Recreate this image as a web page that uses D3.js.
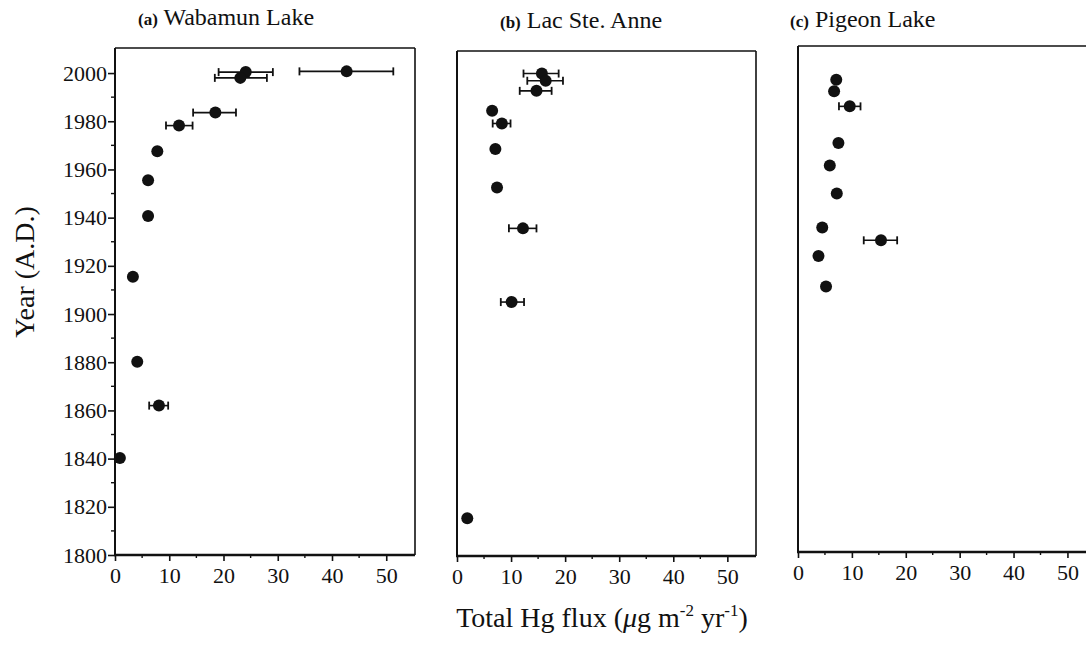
<!DOCTYPE html>
<html>
<head>
<meta charset="utf-8">
<script src="https://cdn.jsdelivr.net/npm/d3@7"></script>
<style>
  body { margin: 0; background: #fff; }
  svg text { font-family: "Liberation Serif", "Times New Roman", serif !important; fill: #111; }
</style>
</head>
<body>
<div id="chart"></div>
<script>
// values
const wabamunYear = [2000.7, 2000.4, 1998, 1983.6, 1978.2, 1967.6, 1955.5, 1940.7, 1915.5, 1880.2, 1862, 1840.3];
const wabamunFlux = [42.7, 24.1, 23.1, 18.5, 11.8, 7.8, 6.1, 6.1, 3.3, 4.1, 8.1, 0.9];
const wabamunLo   = [34.0, 19.1, 18.4, 14.4, 9.4, null, null, null, null, null, 6.3, null];
const wabamunHi   = [51.3, 29.1, 28.0, 22.3, 14.3, null, null, null, null, null, 9.8, null];

const lacYear = [2001, 1998, 1993.8, 1985.5, 1980.2, 1969.6, 1953.5, 1936.5, 1905.8, 1815.7];
const lacFlux = [15.7, 16.4, 14.7, 6.5, 8.3, 7.1, 7.4, 12.2, 10.1, 1.9];
const lacLo   = [12.3, 13.0, 11.6, null, 6.6, null, null, 9.6, 8.1, null];
const lacHi   = [18.8, 19.6, 17.5, null, 9.9, null, null, 14.7, 12.4, null];

const pigeonYear = [1996.4, 1991.6, 1985.3, 1970.1, 1960.7, 1949.1, 1934.9, 1929.6, 1923.1, 1910.4];
const pigeonFlux = [7.1, 6.7, 9.6, 7.5, 5.9, 7.2, 4.5, 15.4, 3.8, 5.2];
const pigeonLo   = [null, null, 7.6, null, null, null, null, 12.2, null, null];
const pigeonHi   = [null, null, 11.6, null, null, null, null, 18.4, null, null];

const xTicks = [0, 10, 20, 30, 40, 50];
const xMinor = [5, 15, 25, 35, 45];
const yTicks = [1800, 1820, 1840, 1860, 1880, 1900, 1920, 1940, 1960, 1980, 2000];
const yMinor = [1810, 1830, 1850, 1870, 1890, 1910, 1930, 1950, 1970, 1990];

const serif = '"Liberation Serif", "Times New Roman", serif';

const panels = [
  { tag: "(a)", name: "Wabamun Lake", year: wabamunYear, flux: wabamunFlux, lo: wabamunLo, hi: wabamunHi,
    left: 115, right: 415, top: 48, bottom: 555, titleX: 138, titleY: 25, yAxis: true, rightFrame: true },
  { tag: "(b)", name: "Lac Ste. Anne", year: lacYear, flux: lacFlux, lo: lacLo, hi: lacHi,
    left: 457, right: 756, top: 51, bottom: 556, titleX: 500, titleY: 28, yAxis: false, rightFrame: true },
  { tag: "(c)", name: "Pigeon Lake", year: pigeonYear, flux: pigeonFlux, lo: pigeonLo, hi: pigeonHi,
    left: 798, right: 1096, top: 46, bottom: 552, titleX: 790, titleY: 27, yAxis: false, rightFrame: false }
];

const svg = d3.select("#chart")
  .append("svg")
  .attr("width", 1086)
  .attr("height", 645);

panels.forEach(p => {
  const x = d3.scaleLinear().domain([0, 55.3]).range([p.left, p.right]);
  const y = d3.scaleLinear().domain([1800, 2010.4]).range([p.bottom, p.top]);

  const g = svg.append("g");

  // frame
  g.append("line").attr("x1", p.left).attr("x2", p.right).attr("y1", p.top).attr("y2", p.top)
    .attr("stroke", "#111").attr("stroke-width", 1.6);
  if (p.rightFrame) {
    g.append("line").attr("x1", p.right).attr("x2", p.right).attr("y1", p.top).attr("y2", p.bottom)
      .attr("stroke", "#111").attr("stroke-width", 1.6);
  }
  g.append("line").attr("x1", p.left).attr("x2", p.left).attr("y1", p.top).attr("y2", p.bottom)
    .attr("stroke", "#111").attr("stroke-width", 2);

  // x axis
  const xa = g.append("g")
    .attr("transform", `translate(0,${p.bottom})`)
    .call(d3.axisBottom(x).tickValues(xTicks).tickSize(6).tickPadding(6).tickFormat(d3.format("d")));
  xa.attr("font-family", null).attr("font-size", null);
  xa.select(".domain").remove();
  xa.selectAll(".tick line").attr("stroke", "#111").attr("stroke-width", 1.6);
  xa.selectAll(".tick text").style("font-size", "22px").style("font-family", serif).attr("fill", "#111");
  g.append("g").selectAll("line").data(xMinor).join("line")
    .attr("x1", d => x(d)).attr("x2", d => x(d))
    .attr("y1", p.bottom).attr("y2", p.bottom + 3)
    .attr("stroke", "#111").attr("stroke-width", 1.4);
  g.append("line").attr("x1", p.left - 1).attr("x2", Math.min(p.right, 1086)).attr("y1", p.bottom).attr("y2", p.bottom)
    .attr("stroke", "#111").attr("stroke-width", 2.6);

  // y axis
  if (p.yAxis) {
    const ya = g.append("g")
      .attr("transform", `translate(${p.left},0)`)
      .call(d3.axisLeft(y).tickValues(yTicks).tickSize(7).tickPadding(1).tickFormat(d3.format("d")));
    ya.attr("font-family", null).attr("font-size", null);
    ya.select(".domain").remove();
    ya.selectAll(".tick line").attr("stroke", "#111").attr("stroke-width", 1.6);
    ya.selectAll(".tick text").style("font-size", "22px").style("font-family", serif).attr("fill", "#111");
    g.append("g").selectAll("line").data(yMinor).join("line")
      .attr("x1", p.left - 4).attr("x2", p.left)
      .attr("y1", d => y(d)).attr("y2", d => y(d))
      .attr("stroke", "#111").attr("stroke-width", 1.4);
  }

  // error bars
  const idx = d3.range(p.year.length);
  const eb = idx.filter(i => p.lo[i] != null);
  g.append("g").selectAll("line").data(eb).join("line")
    .attr("x1", i => x(p.lo[i])).attr("x2", i => x(p.hi[i]))
    .attr("y1", i => y(p.year[i])).attr("y2", i => y(p.year[i]))
    .attr("stroke", "#111").attr("stroke-width", 1.6);
  ["lo", "hi"].forEach(k => {
    g.append("g").selectAll("line").data(eb).join("line")
      .attr("x1", i => x(p[k][i])).attr("x2", i => x(p[k][i]))
      .attr("y1", i => y(p.year[i]) - 4).attr("y2", i => y(p.year[i]) + 4)
      .attr("stroke", "#111").attr("stroke-width", 1.8);
  });

  // points
  g.append("g").selectAll("circle").data(idx).join("circle")
    .attr("cx", i => x(p.flux[i]))
    .attr("cy", i => y(p.year[i]))
    .attr("r", 6)
    .attr("fill", "#111");

  // title
  const t = svg.append("text").attr("x", p.titleX).attr("y", p.titleY).style("font-family", serif);
  t.append("tspan").style("font-size", "17px").attr("font-weight", "bold").text(p.tag);
  t.append("tspan").style("font-size", "24px").text(" " + p.name);
});

// axis labels
svg.append("text")
  .attr("transform", "translate(34,272) rotate(-90)")
  .attr("text-anchor", "middle")
  .style("font-family", serif)
  .style("font-size", "28px")
  .text("Year (A.D.)");

const xl = svg.append("text")
  .attr("x", 602).attr("y", 627)
  .attr("text-anchor", "middle")
  .style("font-family", serif)
  .style("font-size", "28px");
xl.append("tspan").text("Total Hg flux (");
xl.append("tspan").attr("font-style", "italic").text("\u03bc");
xl.append("tspan").text("g m");
xl.append("tspan").style("font-size", "17px").attr("dy", -11).text("-2");
xl.append("tspan").attr("dy", 11).text(" yr");
xl.append("tspan").style("font-size", "17px").attr("dy", -11).text("-1");
xl.append("tspan").attr("dy", 11).text(")");
</script>
</body>
</html>
